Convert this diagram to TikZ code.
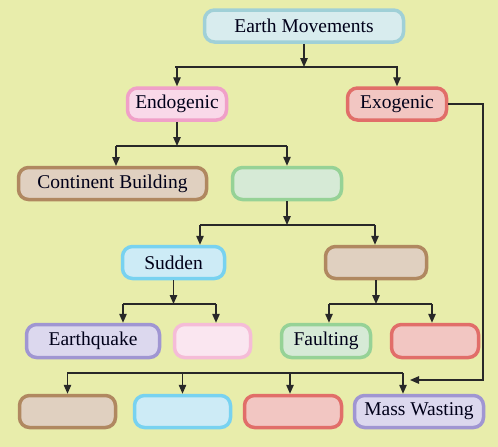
\documentclass[tikz,border=0pt]{standalone}
\usepackage{fontspec}
\setmainfont{Liberation Serif}
\usetikzlibrary{arrows.meta}

\definecolor{bgcol}{RGB}{232,237,171}
\definecolor{linecol}{RGB}{40,40,40}
\definecolor{tealB}{RGB}{160,208,215}  \definecolor{tealF}{RGB}{216,236,238}
\definecolor{pinkB}{RGB}{240,160,200}  \definecolor{pinkF}{RGB}{249,217,233}
\definecolor{lpinkB}{RGB}{245,188,215} \definecolor{lpinkF}{RGB}{250,230,240}
\definecolor{redB}{RGB}{225,110,105}   \definecolor{redF}{RGB}{242,198,194}
\definecolor{brownB}{RGB}{176,136,96}  \definecolor{brownF}{RGB}{224,208,192}
\definecolor{greenB}{RGB}{150,210,150} \definecolor{greenF}{RGB}{214,234,214}
\definecolor{blueB}{RGB}{120,210,240}  \definecolor{blueF}{RGB}{205,235,246}
\definecolor{purpB}{RGB}{160,150,210}  \definecolor{purpF}{RGB}{220,216,238}

\begin{document}
\begin{tikzpicture}[x=1pt,y=-1pt,
	box/.style={rounded corners=10pt, line width=3.5pt, draw=#1B, fill=#1F,
		minimum height=32pt, inner sep=0pt, text=black!90!blue,
		font=\fontsize{19.5}{22}\selectfont},
	arr/.style={-{Triangle[length=9pt,width=7.5pt]}, linecol, line width=1.3pt},
	bus/.style={linecol, line width=1.3pt}]
	\useasboundingbox[fill=bgcol] (0,0) rectangle (498,447);
	% boxes
	\node[box=teal, minimum width=199pt] (earth) at (304,26) {Earth Movements};
	\node[box=pink, minimum width=99pt] (endo) at (177,104) {Endogenic};
	\node[box=red, minimum width=99pt] (exo) at (397,104) {Exogenic};
	\node[box=brown, minimum width=188pt] (cont) at (112.5,183.5) {Continent Building};
	\node[box=green, minimum width=109pt] (blankA) at (287,183.5) {};
	\node[box=blue, minimum width=102pt] (sudden) at (173.5,262.5) {Sudden};
	\node[box=brown, minimum width=101pt] (blankB) at (376,262.5) {};
	\node[box=purp, minimum width=133pt, minimum height=33pt] (quake) at (93,341) {Earthquake};
	\node[box=lpink, minimum width=76pt, minimum height=33pt] (blankC) at (212.5,341) {};
	\node[box=green, minimum width=89pt, minimum height=33pt] (fault) at (326,341) {Faulting};
	\node[box=red, minimum width=87pt, minimum height=33pt] (blankD) at (435,341) {};
	\node[box=brown, minimum width=96pt] (blankE) at (67.5,411.5) {};
	\node[box=blue, minimum width=96pt] (blankF) at (182.5,411.5) {};
	\node[box=red, minimum width=97pt] (blankG) at (293,411.5) {};
	\node[box=purp, minimum width=129pt] (mass) at (419,411.5) {Mass Wasting};
	% junctions
	\coordinate (j1) at (304,67);
	\coordinate (j2) at (177,146);
	\coordinate (j3) at (287,225);
	\coordinate (j4) at (170,304);
	\coordinate (j5) at (376,304);
	\coordinate (j6) at (0,373);
	\coordinate (exoin) at (410,380);
	% earth movements
	\draw[arr] (earth) -- (j1);
	\draw[bus] (175,67) -- (398,67);
	\draw[arr] (endo.north |- j1) -- (endo);
	\draw[arr] (exo.north |- j1) -- (exo);
	% endogenic
	\draw[arr] (endo) -- (j2);
	\draw[bus] (116,146) -- (287,146);
	\draw[arr] (116,146) -- (116,166);
	\draw[arr] (blankA.north |- j2) -- (blankA);
	% blank green
	\draw[arr] (blankA) -- (j3);
	\draw[bus] (200,225) -- (375,225);
	\draw[arr] (200,225) -- (sudden.north -| 200,0);
	\draw[arr] (375,225) -- (blankB.north -| 375,0);
	% sudden
	\draw[arr] (sudden) -- (sudden.south |- j4);
	\draw[bus] (123,304) -- (216,304);
	\draw[arr] (123,304) -- (quake.north -| 123,0);
	\draw[arr] (216,304) -- (blankC.north -| 216,0);
	% blank brown
	\draw[arr] (blankB) -- (j5);
	\draw[bus] (329,304) -- (432,304);
	\draw[arr] (329,304) -- (fault.north -| 329,0);
	\draw[arr] (432,304) -- (blankD.north -| 432,0);
	% bottom row
	\draw[bus] (67,373) -- (403,373);
	\draw[arr] (blankE.north |- j6) -- (blankE);
	\draw[arr] (blankF.north |- j6) -- (blankF);
	\draw[arr] (290,373) -- (blankG.north -| 290,0);
	\draw[arr] (403,373) -- (mass.north -| 403,0);
	% exogenic
	\draw[arr] (exo.east) -| (483,380) -- (exoin);
\end{tikzpicture}
\end{document}
